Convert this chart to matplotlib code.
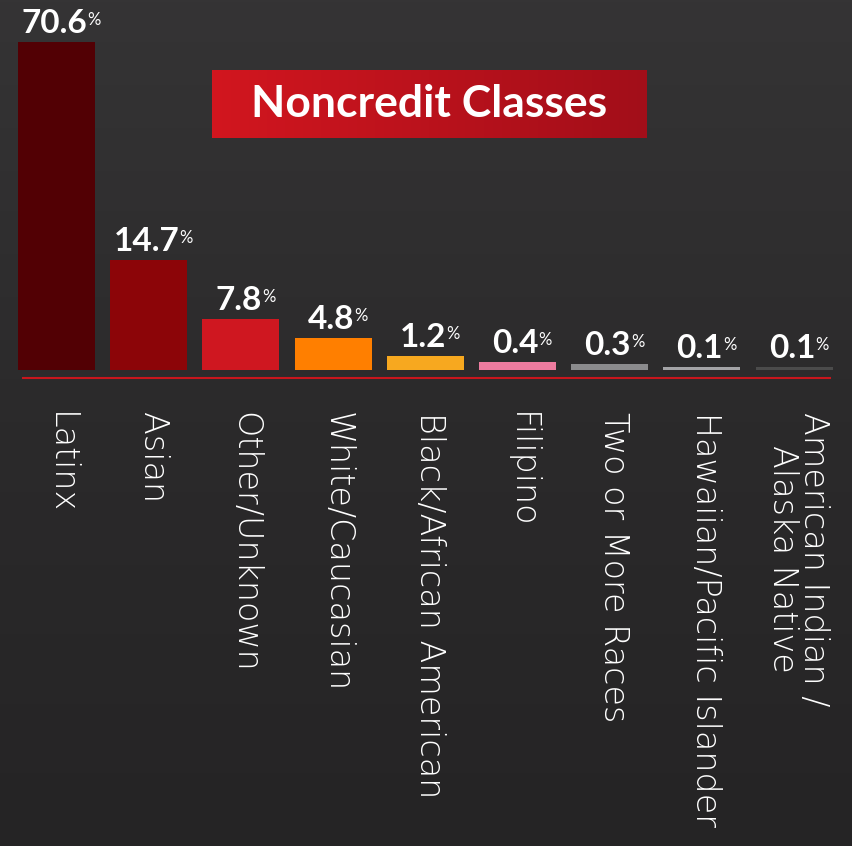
import matplotlib
matplotlib.use('Agg')
import matplotlib.pyplot as plt
import numpy as np
from matplotlib.colors import LinearSegmentedColormap

# ---- data ----
categories = ['Latinx', 'Asian', 'Other/Unknown', 'White/Caucasian',
              'Black/African American', 'Filipino', 'Two or More Races',
              'Hawaiian/Pacific Islander', 'American Indian /\nAlaska Native']
value_labels = ['70.6', '14.7', '7.8', '4.8', '1.2', '0.4', '0.3', '0.1', '0.1']
percent_values = [70.6, 14.7, 7.8, 4.8, 1.2, 0.4, 0.3, 0.1, 0.1]
# bar heights as drawn in the infographic (not proportional to the labels)
drawn_heights = [70.6, 23.7, 11.0, 6.9, 3.0, 1.7, 1.3, 0.65, 0.6]
bar_colors = ['#520004', '#8c0508', '#cf1720', '#ff7f00', '#f7a81f',
              '#ee7b9f', '#8b8b8d', '#a3a3a6', '#4b4b4b']
title = 'Noncredit Classes'

W, H = 852, 846
fig = plt.figure(figsize=(W / 100, H / 100), dpi=100)
fig.patch.set_facecolor('#2b2a2b')

# background
bg = fig.add_axes([0, 0, 1, 1], zorder=0)
grad = np.linspace(0, 1, 256).reshape(-1, 1)
bg.imshow(grad, aspect='auto', extent=[0, 1, 0, 1],
          cmap=LinearSegmentedColormap.from_list('bg', ['#353435', '#2b2a2b', '#252425']))
bg.axis('off')

ax = fig.add_axes([0, 0, 1, 1], zorder=1)
ax.patch.set_alpha(0)
px_per_x, x0px = 92.19, 56.5
ax.set_xlim(-x0px / px_per_x, (W - x0px) / px_per_x)
px_per_y = 328 / 70.6
base = H - 370
ax.set_ylim(-base / px_per_y, (H - base) / px_per_y)
ax.axis('off')

x = np.arange(len(categories))
ax.bar(x, drawn_heights, width=0.835, color=bar_colors, linewidth=0)
ax.hlines(-8 / px_per_y, -0.374, 8.40, color='#c8161d', lw=1.5)

for xi, h, lab in zip(x, drawn_heights, value_labels):
    t = ax.annotate(lab, xy=(xi, h), xytext=(-2, 9), textcoords='offset pixels',
                    ha='center', va='baseline', color='white', fontsize=24,
                    fontweight='bold', family='Lato')
    ax.annotate('%', xy=(1, 1), xycoords=t, xytext=(0, -3), textcoords='offset pixels',
                ha='left', va='top', color='white', fontsize=12,
                fontweight='normal', family='Lato')

for xi, cat in zip(x, categories):
    ax.annotate(cat, xy=(xi, 0), xytext=(4, -42), textcoords='offset pixels',
                rotation=-90, ha='center', va='top', color='white', fontsize=24,
                family='DejaVu Sans', fontweight='light', linespacing=0.95)

# title box
tax = fig.add_axes([212 / W, 1 - 138 / H, 435 / W, 68 / H], zorder=2)
tgrad = np.linspace(0, 1, 256).reshape(1, -1)
tax.imshow(tgrad, aspect='auto', extent=[0, 1, 0, 1],
           cmap=LinearSegmentedColormap.from_list('t', ['#d2161f', '#a20e19']))
tax.axis('off')
tax.text(0.5, (138 - 117) / 68, title, ha='center', va='baseline', color='white',
         fontsize=32, fontweight='bold', family='Lato', transform=tax.transAxes)

fig.savefig('out.png', dpi=100, facecolor=fig.get_facecolor())
